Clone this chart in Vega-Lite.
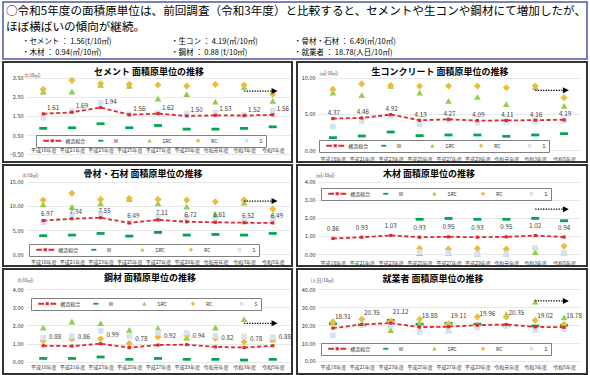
{
"$schema": "https://vega.github.io/schema/vega-lite/v6.json",
"background": "white",
"padding": {"left": 2, "top": 1, "right": 0, "bottom": 0},
"autosize": {"type": "pad"},
"spacing": 1,
"resolve": {"scale": {"color": "independent", "shape": "independent"}, "legend": {"color": "independent", "shape": "independent"}},
"datasets": {
"main": [
{"panel":"セメント","year":"平成18年度","series":"構造総合","value":1.61},{"panel":"セメント","year":"平成21年度","series":"構造総合","value":1.69},{"panel":"セメント","year":"平成23年度","series":"構造総合","value":1.94},{"panel":"セメント","year":"平成25年度","series":"構造総合","value":1.56},{"panel":"セメント","year":"平成27年度","series":"構造総合","value":1.62},{"panel":"セメント","year":"平成29年度","series":"構造総合","value":1.50},{"panel":"セメント","year":"令和元年度","series":"構造総合","value":1.53},{"panel":"セメント","year":"令和3年度","series":"構造総合","value":1.52},{"panel":"セメント","year":"令和5年度","series":"構造総合","value":1.56},
{"panel":"セメント","year":"平成18年度","series":"W","value":0.85},{"panel":"セメント","year":"平成21年度","series":"W","value":0.88},{"panel":"セメント","year":"平成23年度","series":"W","value":1.09},{"panel":"セメント","year":"平成25年度","series":"W","value":0.88},{"panel":"セメント","year":"平成27年度","series":"W","value":1.00},{"panel":"セメント","year":"平成29年度","series":"W","value":0.81},{"panel":"セメント","year":"令和元年度","series":"W","value":0.81},{"panel":"セメント","year":"令和3年度","series":"W","value":0.85},{"panel":"セメント","year":"令和5年度","series":"W","value":0.93},
{"panel":"セメント","year":"平成18年度","series":"SRC","value":2.77},{"panel":"セメント","year":"平成21年度","series":"SRC","value":2.77},{"panel":"セメント","year":"平成23年度","series":"SRC","value":3.12},{"panel":"セメント","year":"平成25年度","series":"SRC","value":3.06},{"panel":"セメント","year":"平成27年度","series":"SRC","value":2.40},{"panel":"セメント","year":"平成29年度","series":"SRC","value":2.63},{"panel":"セメント","year":"令和元年度","series":"SRC","value":2.24},{"panel":"セメント","year":"令和3年度","series":"SRC","value":3.01},{"panel":"セメント","year":"令和5年度","series":"SRC","value":2.28},
{"panel":"セメント","year":"平成18年度","series":"RC","value":2.89},{"panel":"セメント","year":"平成21年度","series":"RC","value":3.36},{"panel":"セメント","year":"平成23年度","series":"RC","value":3.19},{"panel":"セメント","year":"平成25年度","series":"RC","value":3.15},{"panel":"セメント","year":"平成27年度","series":"RC","value":3.12},{"panel":"セメント","year":"平成29年度","series":"RC","value":3.06},{"panel":"セメント","year":"令和元年度","series":"RC","value":3.15},{"panel":"セメント","year":"令和3年度","series":"RC","value":3.12},{"panel":"セメント","year":"令和5年度","series":"RC","value":2.63},
{"panel":"セメント","year":"平成18年度","series":"S","value":1.41},{"panel":"セメント","year":"平成21年度","series":"S","value":1.75},{"panel":"セメント","year":"平成23年度","series":"S","value":2.19},{"panel":"セメント","year":"平成25年度","series":"S","value":1.58},{"panel":"セメント","year":"平成27年度","series":"S","value":1.67},{"panel":"セメント","year":"平成29年度","series":"S","value":1.62},{"panel":"セメント","year":"令和元年度","series":"S","value":1.67},{"panel":"セメント","year":"令和3年度","series":"S","value":1.55},{"panel":"セメント","year":"令和5年度","series":"S","value":1.77},

{"panel":"生コン","year":"平成18年度","series":"構造総合","value":4.37},{"panel":"生コン","year":"平成21年度","series":"構造総合","value":4.46},{"panel":"生コン","year":"平成23年度","series":"構造総合","value":4.92},{"panel":"生コン","year":"平成25年度","series":"構造総合","value":4.13},{"panel":"生コン","year":"平成27年度","series":"構造総合","value":4.27},{"panel":"生コン","year":"平成29年度","series":"構造総合","value":4.09},{"panel":"生コン","year":"令和元年度","series":"構造総合","value":4.11},{"panel":"生コン","year":"令和3年度","series":"構造総合","value":4.16},{"panel":"生コン","year":"令和5年度","series":"構造総合","value":4.19},
{"panel":"生コン","year":"平成18年度","series":"W","value":1.74},{"panel":"生コン","year":"平成21年度","series":"W","value":1.97},{"panel":"生コン","year":"平成23年度","series":"W","value":2.52},{"panel":"生コン","year":"平成25年度","series":"W","value":2.02},{"panel":"生コン","year":"平成27年度","series":"W","value":2.11},{"panel":"生コン","year":"平成29年度","series":"W","value":2.11},{"panel":"生コン","year":"令和元年度","series":"W","value":1.93},{"panel":"生コン","year":"令和3年度","series":"W","value":2.11},{"panel":"生コン","year":"令和5年度","series":"W","value":2.29},
{"panel":"生コン","year":"平成18年度","series":"SRC","value":7.94},{"panel":"生コン","year":"平成21年度","series":"SRC","value":7.57},{"panel":"生コン","year":"平成23年度","series":"SRC","value":8.85},{"panel":"生コン","year":"平成25年度","series":"SRC","value":7.94},{"panel":"生コン","year":"平成27年度","series":"SRC","value":6.79},{"panel":"生コン","year":"平成29年度","series":"SRC","value":7.34},{"panel":"生コン","year":"令和元年度","series":"SRC","value":6.33},{"panel":"生コン","year":"令和3年度","series":"SRC","value":8.70},{"panel":"生コン","year":"令和5年度","series":"SRC","value":6.10},
{"panel":"生コン","year":"平成18年度","series":"RC","value":8.39},{"panel":"生コン","year":"平成21年度","series":"RC","value":9.17},{"panel":"生コン","year":"平成23年度","series":"RC","value":8.94},{"panel":"生コン","year":"平成25年度","series":"RC","value":8.85},{"panel":"生コン","year":"平成27年度","series":"RC","value":8.85},{"panel":"生コン","year":"平成29年度","series":"RC","value":8.85},{"panel":"生コン","year":"令和元年度","series":"RC","value":8.62},{"panel":"生コン","year":"令和3年度","series":"RC","value":8.85},{"panel":"生コン","year":"令和5年度","series":"RC","value":7.25},
{"panel":"生コン","year":"平成18年度","series":"S","value":3.26},{"panel":"生コン","year":"平成21年度","series":"S","value":4.04},{"panel":"生コン","year":"平成23年度","series":"S","value":4.72},{"panel":"生コン","year":"平成25年度","series":"S","value":3.58},{"panel":"生コン","year":"平成27年度","series":"S","value":4.13},{"panel":"生コン","year":"平成29年度","series":"S","value":3.81},{"panel":"生コン","year":"令和元年度","series":"S","value":3.90},{"panel":"生コン","year":"令和3年度","series":"S","value":3.95},{"panel":"生コン","year":"令和5年度","series":"S","value":4.13},

{"panel":"骨材","year":"平成18年度","series":"構造総合","value":6.97},{"panel":"骨材","year":"平成21年度","series":"構造総合","value":7.34},{"panel":"骨材","year":"平成23年度","series":"構造総合","value":7.55},{"panel":"骨材","year":"平成25年度","series":"構造総合","value":6.49},{"panel":"骨材","year":"平成27年度","series":"構造総合","value":7.11},{"panel":"骨材","year":"平成29年度","series":"構造総合","value":6.72},{"panel":"骨材","year":"令和元年度","series":"構造総合","value":6.61},{"panel":"骨材","year":"令和3年度","series":"構造総合","value":6.52},{"panel":"骨材","year":"令和5年度","series":"構造総合","value":6.49},
{"panel":"骨材","year":"平成18年度","series":"W","value":3.83},{"panel":"骨材","year":"平成21年度","series":"W","value":3.97},{"panel":"骨材","year":"平成23年度","series":"W","value":4.31},{"panel":"骨材","year":"平成25年度","series":"W","value":3.76},{"panel":"骨材","year":"平成27年度","series":"W","value":4.52},{"panel":"骨材","year":"平成29年度","series":"W","value":3.97},{"panel":"骨材","year":"令和元年度","series":"W","value":4.10},{"panel":"骨材","year":"令和3年度","series":"W","value":3.97},{"panel":"骨材","year":"令和5年度","series":"W","value":4.31},
{"panel":"骨材","year":"平成18年度","series":"SRC","value":10.30},{"panel":"骨材","year":"平成21年度","series":"SRC","value":9.83},{"panel":"骨材","year":"平成23年度","series":"SRC","value":10.50},{"panel":"骨材","year":"平成25年度","series":"SRC","value":11.40},{"panel":"骨材","year":"平成27年度","series":"SRC","value":10.50},{"panel":"骨材","year":"平成29年度","series":"SRC","value":9.83},{"panel":"骨材","year":"令和元年度","series":"SRC","value":8.10},{"panel":"骨材","year":"令和3年度","series":"SRC","value":10.66},{"panel":"骨材","year":"令和5年度","series":"SRC","value":7.76},
{"panel":"骨材","year":"平成18年度","series":"RC","value":11.20},{"panel":"骨材","year":"平成21年度","series":"RC","value":12.60},{"panel":"骨材","year":"平成23年度","series":"RC","value":11.34},{"panel":"骨材","year":"平成25年度","series":"RC","value":11.55},{"panel":"骨材","year":"平成27年度","series":"RC","value":11.34},{"panel":"骨材","year":"平成29年度","series":"RC","value":11.20},{"panel":"骨材","year":"令和元年度","series":"RC","value":10.86},{"panel":"骨材","year":"令和3年度","series":"RC","value":11.20},{"panel":"骨材","year":"令和5年度","series":"RC","value":9.34},
{"panel":"骨材","year":"平成18年度","series":"S","value":6.59},{"panel":"骨材","year":"平成21年度","series":"S","value":8.24},{"panel":"骨材","year":"平成23年度","series":"S","value":8.45},{"panel":"骨材","year":"平成25年度","series":"S","value":6.59},{"panel":"骨材","year":"平成27年度","series":"S","value":7.76},{"panel":"骨材","year":"平成29年度","series":"S","value":7.55},{"panel":"骨材","year":"令和元年度","series":"S","value":7.00},{"panel":"骨材","year":"令和3年度","series":"S","value":6.86},{"panel":"骨材","year":"令和5年度","series":"S","value":7.40},

{"panel":"木材","year":"平成18年度","series":"構造総合","value":0.86},{"panel":"木材","year":"平成21年度","series":"構造総合","value":0.93},{"panel":"木材","year":"平成23年度","series":"構造総合","value":1.03},{"panel":"木材","year":"平成25年度","series":"構造総合","value":0.93},{"panel":"木材","year":"平成27年度","series":"構造総合","value":0.95},{"panel":"木材","year":"平成29年度","series":"構造総合","value":0.93},{"panel":"木材","year":"令和元年度","series":"構造総合","value":0.95},{"panel":"木材","year":"令和3年度","series":"構造総合","value":1.02},{"panel":"木材","year":"令和5年度","series":"構造総合","value":0.94},
{"panel":"木材","year":"平成25年度","series":"W","value":1.92},{"panel":"木材","year":"平成27年度","series":"W","value":1.97},{"panel":"木材","year":"平成29年度","series":"W","value":1.92},{"panel":"木材","year":"令和元年度","series":"W","value":1.92},{"panel":"木材","year":"令和3年度","series":"W","value":1.97},{"panel":"木材","year":"令和5年度","series":"W","value":1.84},
{"panel":"木材","year":"平成25年度","series":"SRC","value":0.05},{"panel":"木材","year":"平成27年度","series":"SRC","value":0.05},{"panel":"木材","year":"平成29年度","series":"SRC","value":0.02},{"panel":"木材","year":"令和元年度","series":"SRC","value":0.02},{"panel":"木材","year":"令和3年度","series":"SRC","value":0.10},{"panel":"木材","year":"令和5年度","series":"SRC","value":0.08},
{"panel":"木材","year":"平成25年度","series":"RC","value":0.31},{"panel":"木材","year":"平成27年度","series":"RC","value":0.28},{"panel":"木材","year":"平成29年度","series":"RC","value":0.31},{"panel":"木材","year":"令和元年度","series":"RC","value":0.28},{"panel":"木材","year":"令和3年度","series":"RC","value":0.31},{"panel":"木材","year":"令和5年度","series":"RC","value":0.44},
{"panel":"木材","year":"平成25年度","series":"S","value":0.10},{"panel":"木材","year":"平成27年度","series":"S","value":0.06},{"panel":"木材","year":"平成29年度","series":"S","value":0.03},{"panel":"木材","year":"令和元年度","series":"S","value":0.01},{"panel":"木材","year":"令和3年度","series":"S","value":0.35},{"panel":"木材","year":"令和5年度","series":"S","value":0.09},

{"panel":"鋼材","year":"平成18年度","series":"構造総合","value":0.88},{"panel":"鋼材","year":"平成21年度","series":"構造総合","value":0.86},{"panel":"鋼材","year":"平成23年度","series":"構造総合","value":0.99},{"panel":"鋼材","year":"平成25年度","series":"構造総合","value":0.78},{"panel":"鋼材","year":"平成27年度","series":"構造総合","value":0.92},{"panel":"鋼材","year":"平成29年度","series":"構造総合","value":0.94},{"panel":"鋼材","year":"令和元年度","series":"構造総合","value":0.82},{"panel":"鋼材","year":"令和3年度","series":"構造総合","value":0.78},{"panel":"鋼材","year":"令和5年度","series":"構造総合","value":0.88},
{"panel":"鋼材","year":"平成18年度","series":"W","value":0.18},{"panel":"鋼材","year":"平成21年度","series":"W","value":0.18},{"panel":"鋼材","year":"平成23年度","series":"W","value":0.26},{"panel":"鋼材","year":"平成25年度","series":"W","value":0.13},{"panel":"鋼材","year":"平成27年度","series":"W","value":0.18},{"panel":"鋼材","year":"平成29年度","series":"W","value":0.13},{"panel":"鋼材","year":"令和元年度","series":"W","value":0.13},{"panel":"鋼材","year":"令和3年度","series":"W","value":0.09},{"panel":"鋼材","year":"令和5年度","series":"W","value":0.13},
{"panel":"鋼材","year":"平成18年度","series":"SRC","value":1.88},{"panel":"鋼材","year":"平成21年度","series":"SRC","value":2.21},{"panel":"鋼材","year":"平成23年度","series":"SRC","value":2.12},{"panel":"鋼材","year":"平成25年度","series":"SRC","value":1.75},{"panel":"鋼材","year":"平成27年度","series":"SRC","value":1.84},{"panel":"鋼材","year":"平成29年度","series":"SRC","value":1.33},{"panel":"鋼材","year":"令和元年度","series":"SRC","value":1.88},{"panel":"鋼材","year":"令和3年度","series":"SRC","value":2.34},{"panel":"鋼材","year":"令和5年度","series":"SRC","value":1.23},
{"panel":"鋼材","year":"平成18年度","series":"RC","value":1.15},{"panel":"鋼材","year":"平成21年度","series":"RC","value":1.25},{"panel":"鋼材","year":"平成23年度","series":"RC","value":1.27},{"panel":"鋼材","year":"平成25年度","series":"RC","value":1.01},{"panel":"鋼材","year":"平成27年度","series":"RC","value":1.36},{"panel":"鋼材","year":"平成29年度","series":"RC","value":1.46},{"panel":"鋼材","year":"令和元年度","series":"RC","value":1.30},{"panel":"鋼材","year":"令和3年度","series":"RC","value":1.09},{"panel":"鋼材","year":"令和5年度","series":"RC","value":1.25},
{"panel":"鋼材","year":"平成18年度","series":"S","value":1.33},{"panel":"鋼材","year":"平成21年度","series":"S","value":1.42},{"panel":"鋼材","year":"平成23年度","series":"S","value":1.70},{"panel":"鋼材","year":"平成25年度","series":"S","value":1.42},{"panel":"鋼材","year":"平成27年度","series":"S","value":1.60},{"panel":"鋼材","year":"平成29年度","series":"S","value":1.60},{"panel":"鋼材","year":"令和元年度","series":"S","value":1.42},{"panel":"鋼材","year":"令和3年度","series":"S","value":1.40},{"panel":"鋼材","year":"令和5年度","series":"S","value":1.35},

{"panel":"就業者","year":"平成18年度","series":"構造総合","value":18.31},{"panel":"就業者","year":"平成21年度","series":"構造総合","value":20.35},{"panel":"就業者","year":"平成23年度","series":"構造総合","value":21.12},{"panel":"就業者","year":"平成25年度","series":"構造総合","value":18.88},{"panel":"就業者","year":"平成27年度","series":"構造総合","value":19.11},{"panel":"就業者","year":"平成29年度","series":"構造総合","value":19.96},{"panel":"就業者","year":"令和元年度","series":"構造総合","value":20.35},{"panel":"就業者","year":"令和3年度","series":"構造総合","value":19.02},{"panel":"就業者","year":"令和5年度","series":"構造総合","value":18.78},
{"panel":"就業者","year":"平成18年度","series":"W","value":20.8},{"panel":"就業者","year":"平成21年度","series":"W","value":20.1},{"panel":"就業者","year":"平成23年度","series":"W","value":22.7},{"panel":"就業者","year":"平成25年度","series":"W","value":20.5},{"panel":"就業者","year":"平成27年度","series":"W","value":21.0},{"panel":"就業者","year":"平成29年度","series":"W","value":20.5},{"panel":"就業者","year":"令和元年度","series":"W","value":19.9},{"panel":"就業者","year":"令和3年度","series":"W","value":19.5},{"panel":"就業者","year":"令和5年度","series":"W","value":19.9},
{"panel":"就業者","year":"平成18年度","series":"SRC","value":21.4},{"panel":"就業者","year":"平成21年度","series":"SRC","value":20.5},{"panel":"就業者","year":"平成23年度","series":"SRC","value":17.1},{"panel":"就業者","year":"平成25年度","series":"SRC","value":21.0},{"panel":"就業者","year":"平成27年度","series":"SRC","value":17.1},{"panel":"就業者","year":"平成29年度","series":"SRC","value":20.5},{"panel":"就業者","year":"令和元年度","series":"SRC","value":26.0},{"panel":"就業者","year":"令和3年度","series":"SRC","value":33.0},{"panel":"就業者","year":"令和5年度","series":"SRC","value":24.2},
{"panel":"就業者","year":"平成18年度","series":"RC","value":21.8},{"panel":"就業者","year":"平成21年度","series":"RC","value":23.3},{"panel":"就業者","year":"平成23年度","series":"RC","value":22.3},{"panel":"就業者","year":"平成25年度","series":"RC","value":23.3},{"panel":"就業者","year":"平成27年度","series":"RC","value":20.8},{"panel":"就業者","year":"平成29年度","series":"RC","value":24.6},{"panel":"就業者","year":"令和元年度","series":"RC","value":24.6},{"panel":"就業者","year":"令和3年度","series":"RC","value":22.7},{"panel":"就業者","year":"令和5年度","series":"RC","value":20.5},
{"panel":"就業者","year":"平成18年度","series":"S","value":14.3},{"panel":"就業者","year":"平成21年度","series":"S","value":19.9},{"panel":"就業者","year":"平成23年度","series":"S","value":20.0},{"panel":"就業者","year":"平成25年度","series":"S","value":16.2},{"panel":"就業者","year":"平成27年度","series":"S","value":16.7},{"panel":"就業者","year":"平成29年度","series":"S","value":18.6},{"panel":"就業者","year":"令和元年度","series":"S","value":19.5},{"panel":"就業者","year":"令和3年度","series":"S","value":17.3},{"panel":"就業者","year":"令和5年度","series":"S","value":17.7}
]
},
"vconcat": [
{
"width": 584, "height": 57,
"view": {"stroke": "#4f58a0", "strokeWidth": 1.5},
"data": {"values": [
{"line":1,"col":0,"text":"○令和5年度の面積原単位は、前回調査（令和3年度）と比較すると、セメントや生コンや鋼材にて増加したが、"},
{"line":2,"col":0,"text":"ほぼ横ばいの傾向が継続。"},
{"line":3,"col":1,"text":"・セメント ： 1.56(t/10㎡)"},
{"line":3,"col":2,"text":"・生コン ： 4.19(㎥/10㎡)"},
{"line":3,"col":3,"text":"・骨材・石材 ： 6.49(㎥/10㎡)"},
{"line":4,"col":1,"text":"・木材 ： 0.94(㎥/10㎡)"},
{"line":4,"col":2,"text":"・鋼材 ： 0.88 (t/10㎡)"},
{"line":4,"col":3,"text":"・就業者 ： 18.78(人日/10㎡)"}
]},
"encoding": {
"x": {"field":"col","type":"quantitative","scale":{"domain":[0,1,2,3],"range":[3,19,168,291]},"axis":null},
"y": {"field":"line","type":"quantitative","scale":{"domain":[1,2,3,4],"range":[10,26,40,51]},"axis":null},
"text": {"field":"text"}
},
"layer": [
{"transform":[{"filter":"datum.line <= 2"}],"mark":{"type":"text","align":"left","baseline":"middle","fontSize":11.6,"color":"#000000"}},
{"transform":[{"filter":"datum.line > 2"}],"mark":{"type":"text","align":"left","baseline":"middle","fontSize":7.5,"color":"#000000"}}
]
},
{
"hconcat": [
{
"width": 289, "height": 100,
"view": {"stroke": "#333333", "strokeWidth": 2},
"title": {"text": "セメント 面積原単位の推移", "offset": -15, "dx": 1.5},
"data": {"name": "main"},
"transform": [{"filter": "datum.panel === 'セメント'"}],
"encoding": {
"x": {"field": "year", "type": "ordinal", "sort": ["平成18年度","平成21年度","平成23年度","平成25年度","平成27年度","平成29年度","令和元年度","令和3年度","令和5年度"], "scale": {"type": "point", "domain": ["平成18年度","平成21年度","平成23年度","平成25年度","平成27年度","平成29年度","令和元年度","令和3年度","令和5年度"], "range": [23, 287], "padding": 0.6}, "title": null, "axis": {"offset": -14.7}},
"y": {"field": "value", "type": "quantitative", "scale": {"domain": [-0.91, 4.32], "nice": false, "zero": false}, "axis": {"offset": -22, "values": [-0.5,0.5,1.5,2.5,3.5], "format": ".2f", "title": "(t/10㎡)", "titleX": 7, "titleY": 13}}
},
"layer": [
{"transform":[{"filter":"datum.series !== '構造総合'"}],"mark":{"type":"point","filled":true,"opacity":1,"size":38,"strokeWidth":0},
"encoding":{"color":{"field":"series","type":"nominal","scale":{"domain":["構造総合","W","SRC","RC","S"],"range":["#e0282e","#00a651","#92cf50","#ecbc3c","#d5e2f0"]},"legend":{"title":" ","legendX":33,"legendY":73}},
"shape":{"field":"series","type":"nominal","scale":{"domain":["構造総合","W","SRC","RC","S"],"range":["M-4.5,0M-4.5,-0.5H-1.6V0.5H-4.5Z M-0.8,-0.8H0.8V0.8H-0.8Z M1.6,-0.5H4.5V0.5H1.6Z","M-4.5,0M-1.3,-0.45H1.3V0.45H-1.3Z","M-4.5,0M0,-1L1.1,0.9H-1.1Z","M-4.5,0M0,-1.15L1.15,0L0,1.15L-1.15,0Z","M-4.5,0M-0.9,-0.9H0.9V0.9H-0.9Z"]}}}},
{"transform":[{"filter":"datum.series === '構造総合'"}],"mark":{"type":"line","color":"#e0282e","strokeDash":[4,2.5],"strokeWidth":1.8}},
{"transform":[{"filter":"datum.series === '構造総合'"}],"mark":{"type":"point","shape":"square","filled":true,"color":"#e0282e","size":10,"opacity":1,"strokeWidth":0}},
{"transform":[{"filter":"datum.series === '構造総合'"}],"mark":{"type":"text","dx":10,"dy":-6,"fontSize":6.3,"color":"#404040"},"encoding":{"text":{"field":"value","type":"quantitative","format":".2f"}}},
{"data":{"values":[{"panel":"セメント","year":"令和3年度","end":"令和5年度","value":2.8}]},"mark":{"type":"rule","color":"#000000","strokeWidth":1.3,"strokeDash":[1.3,1.3]},"encoding":{"x2":{"field":"end"}}},
{"data":{"values":[{"panel":"セメント","year":"令和5年度","value":2.8}]},"mark":{"type":"point","shape":"M-0.4,-1L1.6,0L-0.4,1Z","filled":true,"color":"#000000","size":36,"opacity":1,"strokeWidth":0}}
]
},
{
"width": 290, "height": 100,
"view": {"stroke": "#333333", "strokeWidth": 2},
"title": {"text": "生コンクリート 面積原単位の推移", "offset": -15, "dx": -2},
"data": {"name": "main"},
"transform": [{"filter": "datum.panel === '生コン'"}],
"encoding": {
"x": {"field": "year", "type": "ordinal", "sort": ["平成18年度","平成21年度","平成23年度","平成25年度","平成27年度","平成29年度","令和元年度","令和3年度","令和5年度"], "scale": {"type": "point", "domain": ["平成18年度","平成21年度","平成23年度","平成25年度","平成27年度","平成29年度","令和元年度","令和3年度","令和5年度"], "range": [20, 283], "padding": 0.55}, "title": null, "axis": {"offset": -5.5}},
"y": {"field": "value", "type": "quantitative", "scale": {"domain": [-1.61, 12.16], "nice": false, "zero": false}, "axis": {"offset": -20, "values": [0,5,10], "format": ".2f", "title": "(㎥/10㎡)", "titleX": 11.5, "titleY": 11}}
},
"layer": [
{"transform":[{"filter":"datum.series !== '構造総合'"}],"mark":{"type":"point","filled":true,"opacity":1,"size":38,"strokeWidth":0},
"encoding":{"color":{"field":"series","type":"nominal","scale":{"domain":["構造総合","W","SRC","RC","S"],"range":["#e0282e","#00a651","#92cf50","#ecbc3c","#d5e2f0"]},"legend":{"title":" ","legendX":22,"legendY":78}},
"shape":{"field":"series","type":"nominal","scale":{"domain":["構造総合","W","SRC","RC","S"],"range":["M-4.5,0M-4.5,-0.5H-1.6V0.5H-4.5Z M-0.8,-0.8H0.8V0.8H-0.8Z M1.6,-0.5H4.5V0.5H1.6Z","M-4.5,0M-1.3,-0.45H1.3V0.45H-1.3Z","M-4.5,0M0,-1L1.1,0.9H-1.1Z","M-4.5,0M0,-1.15L1.15,0L0,1.15L-1.15,0Z","M-4.5,0M-0.9,-0.9H0.9V0.9H-0.9Z"]}}}},
{"transform":[{"filter":"datum.series === '構造総合'"}],"mark":{"type":"line","color":"#e0282e","strokeDash":[4,2.5],"strokeWidth":1.8}},
{"transform":[{"filter":"datum.series === '構造総合'"}],"mark":{"type":"point","shape":"square","filled":true,"color":"#e0282e","size":10,"opacity":1,"strokeWidth":0}},
{"transform":[{"filter":"datum.series === '構造総合'"}],"mark":{"type":"text","dx":1,"dy":-5.5,"fontSize":6.3,"color":"#404040"},"encoding":{"text":{"field":"value","type":"quantitative","format":".2f"}}},
{"data":{"values":[{"panel":"生コン","year":"令和3年度","end":"令和5年度","value":8.26}]},"mark":{"type":"rule","color":"#000000","strokeWidth":1.3,"strokeDash":[1.3,1.3]},"encoding":{"x2":{"field":"end"}}},
{"data":{"values":[{"panel":"生コン","year":"令和5年度","value":8.26}]},"mark":{"type":"point","shape":"M-0.4,-1L1.6,0L-0.4,1Z","filled":true,"color":"#000000","size":36,"opacity":1,"strokeWidth":0}}
]
}
],
"spacing": 5,
"bounds": "flush",
"resolve": {"scale": {"color": "independent", "shape": "independent"}, "legend": {"color": "independent", "shape": "independent"}}
},
{
"hconcat": [
{
"width": 289, "height": 101,
"view": {"stroke": "#333333", "strokeWidth": 2},
"title": {"text": "骨材・石材 面積原単位の推移", "offset": -13.7, "dx": -4.5},
"data": {"name": "main"},
"transform": [{"filter": "datum.panel === '骨材'"}],
"encoding": {
"x": {"field": "year", "type": "ordinal", "sort": ["平成18年度","平成21年度","平成23年度","平成25年度","平成27年度","平成29年度","令和元年度","令和3年度","令和5年度"], "scale": {"type": "point", "domain": ["平成18年度","平成21年度","平成23年度","平成25年度","平成27年度","平成29年度","令和元年度","令和3年度","令和5年度"], "range": [23, 287], "padding": 0.6}, "title": null, "axis": {"offset": -6.5}},
"y": {"field": "value", "type": "quantitative", "scale": {"domain": [-2.42, 18.45], "nice": false, "zero": false}, "axis": {"offset": -22, "values": [0,5,10,15], "format": ".2f", "title": "(t/10㎡)", "titleX": 5, "titleY": 10}}
},
"layer": [
{"transform":[{"filter":"datum.series !== '構造総合'"}],"mark":{"type":"point","filled":true,"opacity":1,"size":38,"strokeWidth":0},
"encoding":{"color":{"field":"series","type":"nominal","scale":{"domain":["構造総合","W","SRC","RC","S"],"range":["#e0282e","#00a651","#92cf50","#ecbc3c","#d5e2f0"]},"legend":{"title":" ","legendX":26,"legendY":79}},
"shape":{"field":"series","type":"nominal","scale":{"domain":["構造総合","W","SRC","RC","S"],"range":["M-4.5,0M-4.5,-0.5H-1.6V0.5H-4.5Z M-0.8,-0.8H0.8V0.8H-0.8Z M1.6,-0.5H4.5V0.5H1.6Z","M-4.5,0M-1.3,-0.45H1.3V0.45H-1.3Z","M-4.5,0M0,-1L1.1,0.9H-1.1Z","M-4.5,0M0,-1.15L1.15,0L0,1.15L-1.15,0Z","M-4.5,0M-0.9,-0.9H0.9V0.9H-0.9Z"]}}}},
{"transform":[{"filter":"datum.series === '構造総合'"}],"mark":{"type":"line","color":"#e0282e","strokeDash":[4,2.5],"strokeWidth":1.8}},
{"transform":[{"filter":"datum.series === '構造総合'"}],"mark":{"type":"point","shape":"square","filled":true,"color":"#e0282e","size":10,"opacity":1,"strokeWidth":0}},
{"transform":[{"filter":"datum.series === '構造総合'"}],"mark":{"type":"text","dx":4,"dy":-7,"fontSize":6.3,"color":"#404040"},"encoding":{"text":{"field":"value","type":"quantitative","format":".2f"}}},
{"data":{"values":[{"panel":"骨材","year":"令和3年度","end":"令和5年度","value":11.0}]},"mark":{"type":"rule","color":"#000000","strokeWidth":1.3,"strokeDash":[1.3,1.3]},"encoding":{"x2":{"field":"end"}}},
{"data":{"values":[{"panel":"骨材","year":"令和5年度","value":11.0}]},"mark":{"type":"point","shape":"M-0.4,-1L1.6,0L-0.4,1Z","filled":true,"color":"#000000","size":36,"opacity":1,"strokeWidth":0}}
]
},
{
"width": 290, "height": 101,
"view": {"stroke": "#333333", "strokeWidth": 2},
"title": {"text": "木材 面積原単位の推移", "offset": -13.7, "dx": -13},
"data": {"name": "main"},
"transform": [{"filter": "datum.panel === '木材'"}],
"encoding": {
"x": {"field": "year", "type": "ordinal", "sort": ["平成18年度","平成21年度","平成23年度","平成25年度","平成27年度","平成29年度","令和元年度","令和3年度","令和5年度"], "scale": {"type": "point", "domain": ["平成18年度","平成21年度","平成23年度","平成25年度","平成27年度","平成29年度","令和元年度","令和3年度","令和5年度"], "range": [20, 283], "padding": 0.55}, "title": null, "axis": {"offset": -5.8}},
"y": {"field": "value", "type": "quantitative", "scale": {"domain": [-0.66, 4.92], "nice": false, "zero": false}, "axis": {"offset": -20, "values": [0,1,2,3,4], "format": ".2f", "title": "(㎥/10㎡)", "titleX": 8, "titleY": 10}}
},
"layer": [
{"transform":[{"filter":"datum.series !== '構造総合'"}],"mark":{"type":"point","filled":true,"opacity":1,"size":38,"strokeWidth":0},
"encoding":{"color":{"field":"series","type":"nominal","scale":{"domain":["構造総合","W","SRC","RC","S"],"range":["#e0282e","#00a651","#92cf50","#ecbc3c","#d5e2f0"]},"legend":{"title":" ","legendX":24,"legendY":23}},
"shape":{"field":"series","type":"nominal","scale":{"domain":["構造総合","W","SRC","RC","S"],"range":["M-4.5,0M-4.5,-0.5H-1.6V0.5H-4.5Z M-0.8,-0.8H0.8V0.8H-0.8Z M1.6,-0.5H4.5V0.5H1.6Z","M-4.5,0M-1.3,-0.45H1.3V0.45H-1.3Z","M-4.5,0M0,-1L1.1,0.9H-1.1Z","M-4.5,0M0,-1.15L1.15,0L0,1.15L-1.15,0Z","M-4.5,0M-0.9,-0.9H0.9V0.9H-0.9Z"]}}}},
{"transform":[{"filter":"datum.series === '構造総合'"}],"mark":{"type":"line","color":"#e0282e","strokeDash":[4,2.5],"strokeWidth":1.8}},
{"transform":[{"filter":"datum.series === '構造総合'"}],"mark":{"type":"point","shape":"square","filled":true,"color":"#e0282e","size":10,"opacity":1,"strokeWidth":0}},
{"transform":[{"filter":"datum.series === '構造総合'"}],"mark":{"type":"text","dx":0,"dy":-9.5,"fontSize":6.3,"color":"#404040"},"encoding":{"text":{"field":"value","type":"quantitative","format":".2f"}}},
{"data":{"values":[{"panel":"木材","year":"令和3年度","end":"令和5年度","value":2.48}]},"mark":{"type":"rule","color":"#000000","strokeWidth":1.3,"strokeDash":[1.3,1.3]},"encoding":{"x2":{"field":"end"}}},
{"data":{"values":[{"panel":"木材","year":"令和5年度","value":2.48}]},"mark":{"type":"point","shape":"M-0.4,-1L1.6,0L-0.4,1Z","filled":true,"color":"#000000","size":36,"opacity":1,"strokeWidth":0}}
]
}
],
"spacing": 5,
"bounds": "flush",
"resolve": {"scale": {"color": "independent", "shape": "independent"}, "legend": {"color": "independent", "shape": "independent"}}
},
{
"hconcat": [
{
"width": 289, "height": 105,
"view": {"stroke": "#333333", "strokeWidth": 2},
"title": {"text": "鋼材 面積原単位の推移", "offset": -14, "dx": 2.5},
"data": {"name": "main"},
"transform": [{"filter": "datum.panel === '鋼材'"}],
"encoding": {
"x": {"field": "year", "type": "ordinal", "sort": ["平成18年度","平成21年度","平成23年度","平成25年度","平成27年度","平成29年度","令和元年度","令和3年度","令和5年度"], "scale": {"type": "point", "domain": ["平成18年度","平成21年度","平成23年度","平成25年度","平成27年度","平成29年度","令和元年度","令和3年度","令和5年度"], "range": [23, 287], "padding": 0.6}, "title": null, "axis": {"offset": -9.8}},
"y": {"field": "value", "type": "quantitative", "scale": {"domain": [-0.68, 5.12], "nice": false, "zero": false}, "axis": {"offset": -22, "values": [0,1,2,3,4], "format": ".2f", "title": "(t/10㎡)", "titleX": 0, "titleY": 11}}
},
"layer": [
{"transform":[{"filter":"datum.series !== '構造総合'"}],"mark":{"type":"point","filled":true,"opacity":1,"size":38,"strokeWidth":0},
"encoding":{"color":{"field":"series","type":"nominal","scale":{"domain":["構造総合","W","SRC","RC","S"],"range":["#e0282e","#00a651","#92cf50","#ecbc3c","#d5e2f0"]},"legend":{"title":" ","legendX":28,"legendY":29}},
"shape":{"field":"series","type":"nominal","scale":{"domain":["構造総合","W","SRC","RC","S"],"range":["M-4.5,0M-4.5,-0.5H-1.6V0.5H-4.5Z M-0.8,-0.8H0.8V0.8H-0.8Z M1.6,-0.5H4.5V0.5H1.6Z","M-4.5,0M-1.3,-0.45H1.3V0.45H-1.3Z","M-4.5,0M0,-1L1.1,0.9H-1.1Z","M-4.5,0M0,-1.15L1.15,0L0,1.15L-1.15,0Z","M-4.5,0M-0.9,-0.9H0.9V0.9H-0.9Z"]}}}},
{"transform":[{"filter":"datum.series === '構造総合'"}],"mark":{"type":"line","color":"#e0282e","strokeDash":[4,2.5],"strokeWidth":1.8}},
{"transform":[{"filter":"datum.series === '構造総合'"}],"mark":{"type":"point","shape":"square","filled":true,"color":"#e0282e","size":10,"opacity":1,"strokeWidth":0}},
{"transform":[{"filter":"datum.series === '構造総合'"}],"mark":{"type":"text","dx":12,"dy":-9,"fontSize":6.3,"color":"#404040"},"encoding":{"text":{"field":"value","type":"quantitative","format":".2f"}}},
{"data":{"values":[{"panel":"鋼材","year":"令和3年度","end":"令和5年度","value":2.12}]},"mark":{"type":"rule","color":"#000000","strokeWidth":1.3,"strokeDash":[1.3,1.3]},"encoding":{"x2":{"field":"end"}}},
{"data":{"values":[{"panel":"鋼材","year":"令和5年度","value":2.12}]},"mark":{"type":"point","shape":"M-0.4,-1L1.6,0L-0.4,1Z","filled":true,"color":"#000000","size":36,"opacity":1,"strokeWidth":0}}
]
},
{
"width": 290, "height": 105,
"view": {"stroke": "#333333", "strokeWidth": 2},
"title": {"text": "就業者 面積原単位の推移", "offset": -14.5, "dx": -9},
"data": {"name": "main"},
"transform": [{"filter": "datum.panel === '就業者'"}],
"encoding": {
"x": {"field": "year", "type": "ordinal", "sort": ["平成18年度","平成21年度","平成23年度","平成25年度","平成27年度","平成29年度","令和元年度","令和3年度","令和5年度"], "scale": {"type": "point", "domain": ["平成18年度","平成21年度","平成23年度","平成25年度","平成27年度","平成29年度","令和元年度","令和3年度","令和5年度"], "range": [20, 283], "padding": 0.55}, "title": null, "axis": {"offset": -9.8}},
"y": {"field": "value", "type": "quantitative", "scale": {"domain": [-7.26, 51.3], "nice": false, "zero": false}, "axis": {"offset": -20, "values": [0,10,20,30,40], "format": ".2f", "title": "(人日/10㎡)", "titleX": 5, "titleY": 11}}
},
"layer": [
{"transform":[{"filter":"datum.series !== '構造総合'"}],"mark":{"type":"point","filled":true,"opacity":1,"size":38,"strokeWidth":0},
"encoding":{"color":{"field":"series","type":"nominal","scale":{"domain":["構造総合","W","SRC","RC","S"],"range":["#e0282e","#00a651","#92cf50","#ecbc3c","#d5e2f0"]},"legend":{"title":" ","legendX":24,"legendY":74}},
"shape":{"field":"series","type":"nominal","scale":{"domain":["構造総合","W","SRC","RC","S"],"range":["M-4.5,0M-4.5,-0.5H-1.6V0.5H-4.5Z M-0.8,-0.8H0.8V0.8H-0.8Z M1.6,-0.5H4.5V0.5H1.6Z","M-4.5,0M-1.3,-0.45H1.3V0.45H-1.3Z","M-4.5,0M0,-1L1.1,0.9H-1.1Z","M-4.5,0M0,-1.15L1.15,0L0,1.15L-1.15,0Z","M-4.5,0M-0.9,-0.9H0.9V0.9H-0.9Z"]}}}},
{"transform":[{"filter":"datum.series === '構造総合'"}],"mark":{"type":"line","color":"#e0282e","strokeDash":[4,2.5],"strokeWidth":1.8}},
{"transform":[{"filter":"datum.series === '構造総合'"}],"mark":{"type":"point","shape":"square","filled":true,"color":"#e0282e","size":10,"opacity":1,"strokeWidth":0}},
{"transform":[{"filter":"datum.series === '構造総合'"}],"mark":{"type":"text","dx":10,"dy":-11,"fontSize":6.3,"color":"#404040"},"encoding":{"text":{"field":"value","type":"quantitative","format":".2f"}}},
{"data":{"values":[{"panel":"就業者","year":"令和3年度","end":"令和5年度","value":33.5}]},"mark":{"type":"rule","color":"#000000","strokeWidth":1.3,"strokeDash":[1.3,1.3]},"encoding":{"x2":{"field":"end"}}},
{"data":{"values":[{"panel":"就業者","year":"令和5年度","value":33.5}]},"mark":{"type":"point","shape":"M-0.4,-1L1.6,0L-0.4,1Z","filled":true,"color":"#000000","size":36,"opacity":1,"strokeWidth":0}}
]
}
],
"spacing": 5,
"bounds": "flush",
"resolve": {"scale": {"color": "independent", "shape": "independent"}, "legend": {"color": "independent", "shape": "independent"}}
}
],
"config": {
"font": "Noto Sans CJK JP",
"view": {"stroke": null},
"axis": {"domain": false, "ticks": false, "labelColor": "#333333", "labelOverlap": false, "labelFont": "Noto Sans CJK JP"},
"axisX": {"labelFontSize": 5, "labelPadding": 0, "grid": false, "labelAngle": 0},
"axisY": {"labelFontSize": 5.5, "labelPadding": 2, "grid": true, "gridColor": "#d9d9d9", "gridWidth": 0.6, "titleAngle": 0, "titleFontSize": 4.5, "titleFontWeight": "normal", "titleAlign": "center", "titleBaseline": "middle", "titleColor": "#333333"},
"legend": {"orient": "none", "direction": "horizontal", "columns": 5, "gridAlign": "all", "columnPadding": 5.6, "padding": 3, "strokeColor": "#808080", "fillColor": "#ffffff", "labelFontSize": 5, "labelColor": "#333333", "labelFont": "Noto Sans CJK JP", "symbolSize": 16, "symbolStrokeWidth": 0, "symbolOffset": 0, "labelOffset": 10.5, "titleOrient": "left", "titleFontSize": 5, "titlePadding": 10.7},
"title": {"fontSize": 9, "fontWeight": "bold", "color": "#000000", "anchor": "middle", "baseline": "middle", "font": "Noto Sans CJK JP"}
}
}
